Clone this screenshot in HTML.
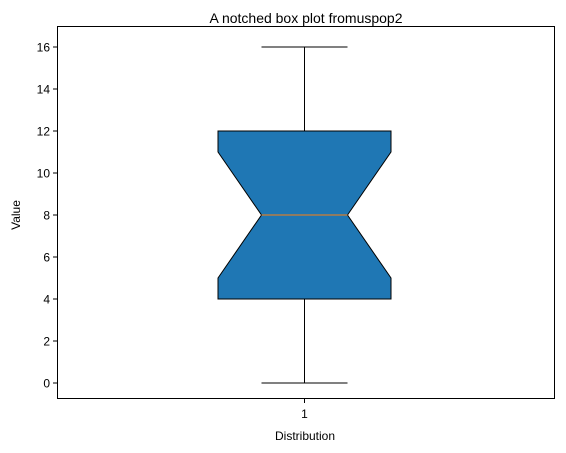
<!DOCTYPE html>
<html><head><meta charset="utf-8"><style>
html,body{margin:0;padding:0;background:#fff;}
svg{display:block;font-family:"Liberation Sans","DejaVu Sans",sans-serif;}
</style></head><body>
<svg id="chart" width="566" height="453">
<text x="306" y="23" text-anchor="middle" font-size="14">A notched box plot fromuspop2</text>
<text transform="translate(20,215) rotate(-90)" text-anchor="middle" font-size="12">Value</text>
<text x="305" y="440" text-anchor="middle" font-size="12">Distribution</text>
<g id="yticks"></g><g id="xticks"></g><g id="box"></g>
<rect x="57.5" y="26.5" width="497" height="372" fill="none" stroke="#000" stroke-width="1"/>
</svg>
<script>
const categories = ["1"];
const whiskerLow = [0];
const q1 = [4];
const notchLow = [5];
const median = [8];
const notchHigh = [11];
const q3 = [12];
const whiskerHigh = [16];
const yTicks = [0,2,4,6,8,10,12,14,16];

const NS="http://www.w3.org/2000/svg";
const y = v => 383 - v*21;
const x = i => 304.5 + i*100;
function mk(tag, attrs, parent){const e=document.createElementNS(NS,tag);for(const k in attrs)e.setAttribute(k,attrs[k]);parent.appendChild(e);return e;}
const yt=document.getElementById('yticks');
yTicks.forEach(t=>{
  const l=mk('line',{x1:53,x2:57.5,y1:y(t),y2:y(t),stroke:'#000'},yt);
  
  
  const tx=mk('text',{x:50,y:y(t)+4.5,'text-anchor':'end','font-size':12},yt);
  tx.textContent=t;
  
  
});
const xt=document.getElementById('xticks');
const bx=document.getElementById('box');
categories.forEach((c,i)=>{
  const cx=x(i);
  const l=mk('line',{x1:cx,x2:cx,y1:398.5,y2:403,stroke:'#000'},xt);
  
  
  const tx=mk('text',{x:cx,y:418,'text-anchor':'middle','font-size':12},xt);
  tx.textContent=c;
  
  
  const hw=86.5, nw=43;
  const w1=mk('line',{x1:cx,x2:cx,y1:y(q1[i]),y2:y(whiskerLow[i]),stroke:'#000'},bx);
  
  
  const w2=mk('line',{x1:cx,x2:cx,y1:y(q3[i]),y2:y(whiskerHigh[i]),stroke:'#000'},bx);
  
  
  const c1=mk('line',{x1:cx-nw,x2:cx+nw,y1:y(whiskerLow[i]),y2:y(whiskerLow[i]),stroke:'#000'},bx);
  
  
  const c2=mk('line',{x1:cx-nw,x2:cx+nw,y1:y(whiskerHigh[i]),y2:y(whiskerHigh[i]),stroke:'#000'},bx);
  
  
  const pts=[[cx-hw,y(q1[i])],[cx+hw,y(q1[i])],[cx+hw,y(notchLow[i])],[cx+nw,y(median[i])],[cx+hw,y(notchHigh[i])],[cx+hw,y(q3[i])],[cx-hw,y(q3[i])],[cx-hw,y(notchHigh[i])],[cx-nw,y(median[i])],[cx-hw,y(notchLow[i])]];
  const p=mk('polygon',{points:pts.map(q=>q.join(',')).join(' '),fill:'#1f77b4',stroke:'#000','stroke-width':1},bx);
  
  
  const m=mk('line',{x1:cx-nw,x2:cx+nw,y1:y(median[i]),y2:y(median[i]),stroke:'#ff7f0e'},bx);
  
  
});
</script>
</body></html>
